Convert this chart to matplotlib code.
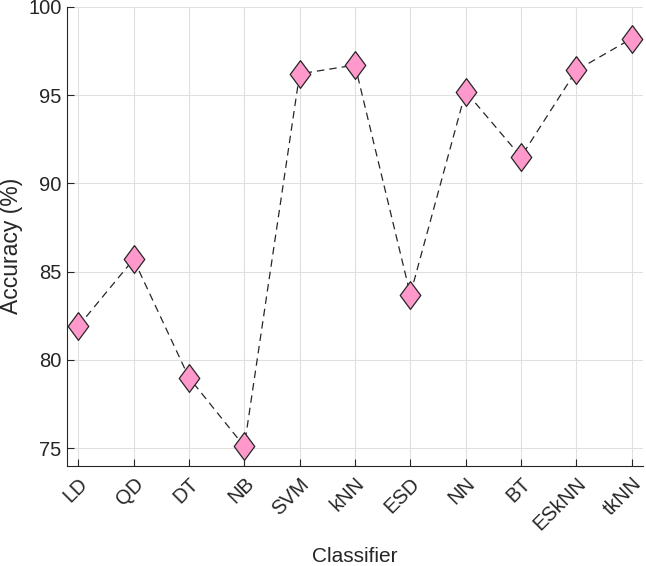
import matplotlib
matplotlib.use("Agg")
import matplotlib.pyplot as plt
import matplotlib.transforms as mtransforms

classifiers = ["LD", "QD", "DT", "NB", "SVM", "kNN", "ESD", "NN", "BT", "ESkNN", "tkNN"]
accuracy = [81.9, 85.7, 79.0, 75.1, 96.2, 96.7, 83.7, 95.2, 91.5, 96.4, 98.2]
y_ticks = [75, 80, 85, 90, 95, 100]

plt.rcParams["font.family"] = ["Liberation Sans", "DejaVu Sans"]

# MATLAB-style diamond (taller than wide)
diamond = [(0, 1), (0.74, 0), (0, -1), (-0.74, 0), (0, 1)]

fig = plt.figure(figsize=(6.46, 5.66), dpi=100)
ax = fig.add_axes([0.104, 0.177, 0.891, 0.811])

x = list(range(len(classifiers)))
ax.plot(x, accuracy, linestyle=(0, (6, 4)), color="#262626", linewidth=0.9,
        marker=diamond, markersize=20, markerfacecolor="#FF99CC",
        markeredgecolor="#262626", markeredgewidth=0.9, zorder=3)

ax.set_xlim(-0.2, len(classifiers) - 0.8)
ax.set_ylim(74, 100)
ax.set_xticks(x)
ax.set_xticklabels(classifiers, rotation=45, ha="right", va="top",
                   rotation_mode="anchor")
ax.set_yticks(y_ticks)

# nudge rotated labels like matlab does
shift = mtransforms.ScaledTranslation(0.05, -0.01, fig.dpi_scale_trans)
for lbl in ax.get_xticklabels():
    lbl.set_transform(lbl.get_transform() + shift)

ax.grid(True, color="#e0e0e0", linewidth=0.8)
ax.set_axisbelow(True)
for side in ["top", "right"]:
    ax.spines[side].set_visible(False)
for side in ["left", "bottom"]:
    ax.spines[side].set_color("#262626")
    ax.spines[side].set_linewidth(0.8)
ax.tick_params(direction="in", length=5, width=0.8, colors="#262626",
               labelsize=14.5, labelcolor="#262626")
ax.tick_params(axis="x", pad=6)
ax.tick_params(axis="y", pad=4)

ax.set_xlabel("Classifier", fontsize=15, color="#262626")
ax.set_ylabel("Accuracy (%)", fontsize=16.5, color="#262626")
ax.xaxis.set_label_coords(0.5, -0.176)
ax.yaxis.set_label_coords(-0.077, 0.48)

fig.savefig("out.png", dpi=100)
